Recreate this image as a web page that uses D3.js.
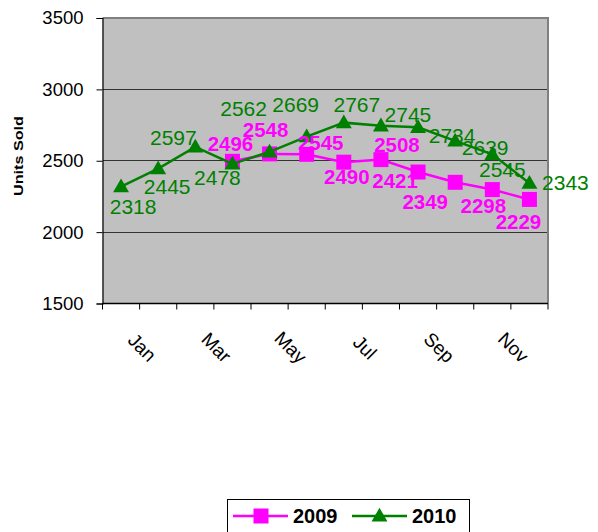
<!DOCTYPE html>
<html>
<head>
<meta charset="utf-8">
<script src="https://cdn.jsdelivr.net/npm/d3@7"></script>
<style>
  html, body { margin: 0; padding: 0; background: #fff; }
  svg { display: block; }
  text { font-family: "Liberation Sans", Arial, sans-serif; }
</style>
</head>
<body>
<svg id="chart" width="598" height="532"></svg>
<script>
// ---- data ----
const months = ["Jan","Feb","Mar","Apr","May","Jun","Jul","Aug","Sep","Oct","Nov","Dec"];
const tickLabels = ["Jan","Mar","May","Jul","Sep","Nov"];
const yTicks = [1500, 2000, 2500, 3000, 3500];
const series2009 = [null, null, null, 2496, 2548, 2545, 2490, 2508, 2421, 2349, 2298, 2229];
const series2010 = [2318, 2445, 2597, 2478, 2562, 2669, 2767, 2745, 2734, 2639, 2545, 2343];

// ---- label placement (layout only) ----
const off2009 = [null, null, null, [-2,-18], [-4,-24], [14,-12], [3,14], [16,-15], [-23,8], [-30,19], [-9,16], [-11,22]];
const off2010 = [[12,20], [9,18], [-22,-9], [-15,14], [-26,-43], [-11,-32], [13,-18], [27,-11], [34,8], [30,7], [10,15], [36,-1]];

const svg = d3.select("#chart");
const L = 102.5, R = 548, T = 18, B = 303.5;

const x = d3.scaleBand().domain(months).range([L, R]).padding(0);
const y = d3.scaleLinear().domain([1500, 3500]).range([B, T]);
const cx = m => x(m) + x.bandwidth() / 2;

// plot background
svg.append("rect").attr("x", L).attr("y", T).attr("width", R - L).attr("height", B - T)
  .attr("fill", "#c0c0c0");

// gridlines
svg.append("g").selectAll("line").data(yTicks.filter(v => v > 1500 && v < 3500)).join("line")
  .attr("x1", L).attr("x2", R).attr("y1", d => y(d)).attr("y2", d => y(d))
  .attr("stroke", "#333").attr("stroke-width", 1).attr("shape-rendering", "crispEdges");

// plot border (gray top & right)
svg.append("path")
  .attr("d", `M${L},${T}H${R}V${B}`)
  .attr("fill", "none").attr("stroke", "#808080").attr("stroke-width", 2);

// y axis
const yAxis = d3.axisLeft(y).tickValues(yTicks).tickSize(6).tickPadding(13).tickFormat(d3.format("d"));
const gy = svg.append("g").attr("transform", `translate(${L},0)`).call(yAxis);
gy.select(".domain").attr("stroke", "#000").attr("stroke-width", 1.2);
gy.selectAll(".tick line").attr("stroke", "#000");
gy.selectAll("text").attr("font-size", 18.5).attr("fill", "#000")
  .attr("font-family", "Liberation Sans, Arial, sans-serif");

// x axis: ticks at band boundaries
const xb = d3.scaleLinear().domain([0, 12]).range([L, R]);
const gx = svg.append("g").attr("transform", `translate(0,${B})`);
gx.append("line").attr("x1", L).attr("x2", R).attr("stroke", "#000").attr("stroke-width", 1.5);
gx.selectAll("line.tk").data(d3.range(13)).join("line").attr("class", "tk")
  .attr("x1", d => xb(d)).attr("x2", d => xb(d)).attr("y1", 0).attr("y2", 6)
  .attr("stroke", "#000").attr("stroke-width", 1);
gx.selectAll("text").data(tickLabels).join("text")
  .attr("transform", d => `translate(${cx(d) + 21},${44}) rotate(45)`)
  .attr("text-anchor", "middle").attr("dominant-baseline", "central")
  .attr("font-size", 19).attr("fill", "#000").text(d => d);

// y axis title
svg.append("text").attr("transform", `translate(19,${156}) rotate(-90)`)
  .attr("text-anchor", "middle").attr("dominant-baseline", "central")
  .attr("font-size", 12.5).attr("font-weight", "bold")
  .attr("textLength", 80).attr("lengthAdjust", "spacingAndGlyphs")
  .text("Units Sold");

// lines
const lineGen = d3.line().defined(d => d.v != null).x(d => cx(d.m)).y(d => y(d.v));
const d09 = months.map((m, i) => ({ m, v: series2009[i], o: off2009[i] }));
const d10 = months.map((m, i) => ({ m, v: series2010[i], o: off2010[i] }));

svg.append("path").datum(d09).attr("d", lineGen).attr("fill", "none")
  .attr("stroke", "#ff00ff").attr("stroke-width", 2.5);
svg.append("g").selectAll("rect").data(d09.filter(d => d.v != null)).join("rect")
  .attr("x", d => cx(d.m) - 7.5).attr("y", d => y(d.v) - 7.5)
  .attr("width", 15).attr("height", 15).attr("fill", "#ff00ff");

svg.append("path").datum(d10).attr("d", lineGen).attr("fill", "none")
  .attr("stroke", "#008000").attr("stroke-width", 2.5);
const tri = d3.symbol().type(d3.symbolTriangle).size(110);
svg.append("g").selectAll("path").data(d10).join("path")
  .attr("d", tri).attr("transform", d => `translate(${cx(d.m)},${y(d.v) + 1})`)
  .attr("fill", "#008000");

// data labels
svg.append("g").selectAll("text").data(d10).join("text")
  .attr("x", d => cx(d.m) + d.o[0]).attr("y", d => y(d.v) + d.o[1])
  .attr("text-anchor", "middle").attr("dominant-baseline", "central")
  .attr("font-size", 21).attr("fill", "#008000").text(d => d.v);
svg.append("g").selectAll("text").data(d09.filter(d => d.v != null)).join("text")
  .attr("x", d => cx(d.m) + d.o[0]).attr("y", d => y(d.v) + d.o[1])
  .attr("text-anchor", "middle").attr("dominant-baseline", "central")
  .attr("font-size", 20.5).attr("font-weight", "bold").attr("fill", "#ff00ff").text(d => d.v);

// legend
const lg = svg.append("g");
lg.append("rect").attr("x", 227.5).attr("y", 499.5).attr("width", 242).attr("height", 40)
  .attr("fill", "#fff").attr("stroke", "#000").attr("stroke-width", 1);
const legendItems = [
  { name: "2009", color: "#ff00ff", shape: "square", x0: 233 },
  { name: "2010", color: "#008000", shape: "triangle", x0: 352 }
];
legendItems.forEach(it => {
  lg.append("line").attr("x1", it.x0).attr("x2", it.x0 + 55).attr("y1", 516).attr("y2", 516)
    .attr("stroke", it.color).attr("stroke-width", 2.5);
  if (it.shape === "square") {
    lg.append("rect").attr("x", it.x0 + 20.5).attr("y", 508.5).attr("width", 15).attr("height", 15)
      .attr("fill", it.color);
  } else {
    lg.append("path").attr("d", tri).attr("transform", `translate(${it.x0 + 27.5},517)`)
      .attr("fill", it.color);
  }
  lg.append("text").attr("x", it.x0 + 60).attr("y", 516).attr("dominant-baseline", "central")
    .attr("font-size", 20).attr("font-weight", "bold").attr("fill", "#000").text(it.name);
});
</script>
</body>
</html>
